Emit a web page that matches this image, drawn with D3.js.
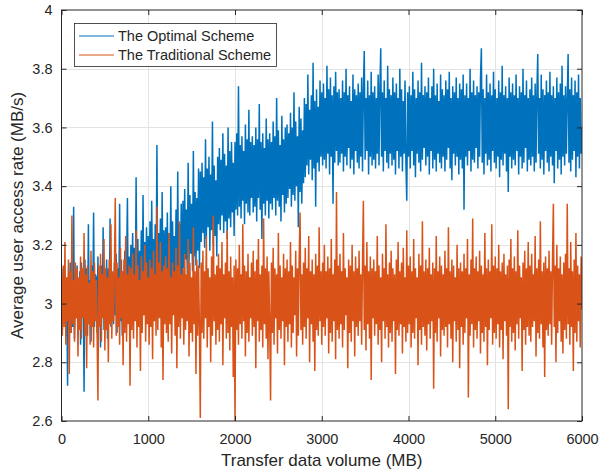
<!DOCTYPE html>
<html>
<head>
<meta charset="utf-8">
<script src="https://cdn.jsdelivr.net/npm/d3@7"></script>
<style>
  body { margin: 0; background: #fff; }
  text { font-family: "Liberation Sans", Arial, Helvetica, sans-serif; fill: #262626; }
</style>
</head>
<body>
<svg id="chart" width="600" height="473"></svg>
<script>
// data, one sample every 10 MB
const xStep = 10;
const optimal = [
  3.08, 2.91, 3.12, 2.94, 3.10, 2.89, 3.05, 2.72, 3.09, 2.93, 3.14, 2.90, 3.06, 2.92, 3.33, 2.88, 3.07, 2.95, 3.13, 2.91,
  2.94, 3.11, 2.86, 3.14, 2.96, 3.09, 2.70, 3.15, 2.93, 3.12, 2.89, 3.27, 2.95, 3.08, 2.87, 3.13, 2.97, 3.31, 2.92, 3.10,
  3.09, 2.90, 3.16, 2.94, 3.11, 2.85, 3.13, 2.96, 3.26, 2.91, 3.08, 2.97, 3.15, 2.88, 3.12, 2.95, 3.29, 2.92, 3.10, 2.98,
  2.93, 3.14, 2.96, 3.17, 2.90, 3.12, 2.98, 3.34, 2.94, 3.15, 2.89, 3.11, 2.99, 3.18, 2.92, 3.13, 3.36, 2.95, 3.16, 2.97,
  3.20, 2.99, 3.24, 3.02, 3.19, 2.97, 3.43, 3.04, 3.22, 2.98, 3.18, 3.05, 3.25, 3.00, 3.37, 2.96, 3.21, 3.03, 3.26, 3.01,
  3.23, 3.02, 3.28, 2.99, 3.35, 3.04, 3.22, 3.00, 3.27, 3.05, 3.54, 3.01, 3.24, 3.06, 3.29, 2.98, 3.38, 3.03, 3.25, 3.07,
  3.26, 3.04, 3.31, 3.01, 3.24, 3.07, 3.40, 3.03, 3.28, 3.08, 3.23, 2.97, 3.32, 3.05, 3.45, 3.02, 3.27, 3.09, 3.34, 3.04,
  3.35, 3.12, 3.39, 3.15, 3.32, 3.10, 3.48, 3.14, 3.37, 3.17, 3.34, 3.11, 3.52, 3.16, 3.38, 3.13, 3.36, 3.18, 3.46, 3.12,
  3.45, 3.21, 3.48, 3.24, 3.43, 3.19, 3.56, 3.22, 3.46, 3.26, 3.50, 3.18, 3.44, 3.25, 3.62, 3.20, 3.47, 3.23, 3.42, 3.16,
  3.50, 3.27, 3.53, 3.25, 3.49, 3.30, 3.58, 3.24, 3.51, 3.28, 3.47, 3.22, 3.60, 3.29, 3.52, 3.26, 3.55, 3.31, 3.48, 3.23,
  3.55, 3.32, 3.58, 3.30, 3.74, 3.33, 3.54, 3.29, 3.57, 3.35, 3.52, 3.27, 3.61, 3.34, 3.56, 3.31, 3.66, 3.30, 3.55, 3.36,
  3.57, 3.31, 3.54, 3.33, 3.60, 3.28, 3.56, 3.36, 3.68, 3.32, 3.55, 3.22, 3.58, 3.34, 3.53, 3.30, 3.63, 3.35, 3.56, 3.29,
  3.58, 3.34, 3.55, 3.32, 3.62, 3.36, 3.57, 3.30, 3.70, 3.35, 3.59, 3.33, 3.54, 3.28, 3.64, 3.37, 3.56, 3.31, 3.60, 3.34,
  3.61, 3.36, 3.58, 3.39, 3.65, 3.33, 3.60, 3.37, 3.72, 3.35, 3.62, 3.40, 3.57, 3.26, 3.67, 3.38, 3.63, 3.34, 3.59, 3.41,
  3.70, 3.43, 3.68, 3.47, 3.78, 3.44, 3.66, 3.49, 3.71, 3.42, 3.82, 3.46, 3.69, 3.33, 3.73, 3.48, 3.67, 3.45, 3.76, 3.50,
  3.72, 3.47, 3.75, 3.49, 3.70, 3.46, 3.81, 3.51, 3.73, 3.44, 3.77, 3.50, 3.71, 3.34, 3.74, 3.48, 3.79, 3.52, 3.72, 3.47,
  3.73, 3.48, 3.70, 3.51, 3.76, 3.45, 3.72, 3.50, 3.80, 3.47, 3.71, 3.53, 3.74, 3.46, 3.69, 3.49, 3.78, 3.44, 3.73, 3.52,
  3.71, 3.48, 3.75, 3.46, 3.72, 3.50, 3.77, 3.45, 3.73, 3.86, 3.49, 3.70, 3.52, 3.76, 3.44, 3.71, 3.50, 3.79, 3.47, 3.72,
  3.49, 3.74, 3.46, 3.70, 3.51, 3.78, 3.47, 3.73, 3.87, 3.50, 3.72, 3.45, 3.76, 3.52, 3.70, 3.48, 3.81, 3.46, 3.73, 3.51,
  3.71, 3.47, 3.77, 3.49, 3.72, 3.44, 3.75, 3.52, 3.70, 3.46, 3.80, 3.50, 3.73, 3.45, 3.69, 3.51, 3.76, 3.48, 3.35, 3.72,
  3.50, 3.74, 3.46, 3.71, 3.52, 3.79, 3.47, 3.73, 3.43, 3.70, 3.51, 3.76, 3.48, 3.72, 3.45, 3.82, 3.49, 3.71, 3.53, 3.74,
  3.47, 3.72, 3.50, 3.77, 3.44, 3.70, 3.52, 3.74, 3.46, 3.80, 3.49, 3.71, 3.45, 3.75, 3.51, 3.69, 3.48, 3.78, 3.46, 3.73,
  3.50, 3.71, 3.45, 3.76, 3.49, 3.73, 3.53, 3.79, 3.46, 3.70, 3.42, 3.74, 3.51, 3.72, 3.47, 3.77, 3.50, 3.70, 3.44, 3.75,
  3.49, 3.73, 3.46, 3.78, 3.32, 3.71, 3.50, 3.75, 3.47, 3.70, 3.52, 3.80, 3.45, 3.72, 3.49, 3.76, 3.48, 3.71, 3.53, 3.74,
  3.46, 3.72, 3.50, 3.77, 3.87, 3.48, 3.73, 3.44, 3.70, 3.51, 3.78, 3.47, 3.72, 3.49, 3.75, 3.45, 3.71, 3.52, 3.79, 3.48,
  3.73, 3.46, 3.70, 3.50, 3.76, 3.43, 3.72, 3.49, 3.81, 3.47, 3.71, 3.51, 3.74, 3.45, 3.70, 3.38, 3.77, 3.50, 3.72, 3.46,
  3.75, 3.49, 3.71, 3.47, 3.78, 3.52, 3.70, 3.44, 3.74, 3.50, 3.72, 3.46, 3.80, 3.48, 3.71, 3.53, 3.76, 3.45, 3.70, 3.49,
  3.73, 3.47, 3.77, 3.50, 3.71, 3.45, 3.75, 3.48, 3.72, 3.85, 3.51, 3.70, 3.46, 3.78, 3.49, 3.73, 3.44, 3.71, 3.52, 3.76,
  3.48, 3.72, 3.45, 3.79, 3.50, 3.71, 3.47, 3.74, 3.41, 3.70, 3.52, 3.77, 3.46, 3.72, 3.49, 3.75, 3.44, 3.81, 3.50, 3.71,
  3.47, 3.74, 3.51, 3.70, 3.85, 3.48, 3.73, 3.45, 3.77, 3.49, 3.71, 3.52, 3.76, 3.43, 3.72, 3.50, 3.78, 3.46, 3.70, 3.51,
  3.60
];
const traditional = [
  3.10, 2.89, 3.13, 2.92, 3.21, 2.86, 3.09, 2.94, 3.15, 2.76, 3.11, 2.90, 3.30, 2.93, 3.08, 2.87, 3.14, 2.95, 3.12, 2.82,
  3.09, 2.91, 3.16, 2.88, 3.12, 2.95, 3.24, 2.89, 3.10, 2.78, 3.13, 2.93, 3.07, 2.86, 3.18, 2.92, 3.11, 2.85, 3.14, 2.94,
  3.08, 2.90, 2.67, 3.13, 2.92, 3.17, 2.87, 3.10, 2.95, 3.22, 2.84, 3.12, 2.91, 3.09, 2.80, 3.15, 2.93, 3.27, 2.88, 3.11,
  2.94, 3.12, 3.36, 2.89, 3.14, 2.92, 3.09, 2.86, 3.19, 2.95, 3.11, 2.79, 3.15, 2.90, 3.23, 2.87, 3.10, 2.93, 3.13, 2.72,
  3.12, 2.91, 3.17, 2.88, 3.10, 2.94, 3.25, 2.85, 3.13, 2.92, 3.08, 2.77, 3.16, 2.90, 3.11, 2.96, 3.20, 2.87, 3.14, 2.93,
  3.09, 2.86, 3.15, 2.92, 3.12, 2.81, 3.18, 2.94, 3.10, 2.89, 3.33, 2.91, 3.14, 2.95, 3.21, 2.85, 3.11, 2.74, 3.13, 2.93,
  3.16, 2.90, 3.12, 2.87, 3.24, 2.93, 3.09, 2.83, 3.14, 2.96, 3.11, 2.89, 3.19, 2.78, 3.13, 2.92, 3.28, 2.88, 3.10, 2.95,
  3.12, 2.86, 3.17, 2.91, 3.10, 2.94, 3.22, 2.82, 3.14, 2.90, 3.09, 2.87, 3.26, 2.93, 3.11, 2.76, 3.15, 2.89, 3.13, 2.92,
  2.61, 3.14, 2.90, 3.18, 2.88, 3.11, 2.95, 3.23, 2.85, 3.12, 2.92, 3.09, 2.80, 3.16, 2.89, 3.30, 2.94, 3.10, 2.86, 3.13,
  2.91, 3.17, 2.87, 3.12, 2.93, 3.21, 2.79, 3.10, 2.95, 3.14, 2.88, 3.25, 2.90, 3.11, 2.84, 3.16, 2.92, 3.09, 2.75, 3.13,
  2.60, 3.15, 2.91, 3.12, 2.86, 3.20, 2.93, 3.10, 2.88, 3.27, 2.94, 3.13, 2.82, 3.11, 2.90, 3.17, 2.87, 3.09, 2.95, 3.14,
  2.89, 3.18, 2.92, 3.11, 2.78, 3.15, 2.94, 3.22, 2.87, 3.10, 2.91, 3.13, 2.85, 3.29, 2.93, 3.12, 2.88, 3.16, 2.81, 3.11,
  2.93, 2.67, 3.14, 2.90, 3.19, 2.86, 3.12, 2.95, 3.10, 2.83, 3.24, 2.91, 3.13, 2.88, 3.09, 2.94, 3.17, 2.79, 3.12, 2.92,
  3.15, 2.87, 3.11, 2.93, 3.21, 2.85, 3.13, 2.90, 3.09, 2.96, 3.18, 2.82, 3.12, 2.89, 3.16, 3.31, 2.91, 3.10, 2.86, 3.14,
  2.92, 3.19, 2.88, 3.12, 2.95, 3.23, 2.80, 3.11, 2.93, 3.15, 2.87, 3.10, 2.77, 3.17, 2.91, 3.13, 2.89, 3.26, 2.94, 3.11,
  2.86, 3.14, 2.92, 3.20, 2.89, 3.11, 2.95, 3.16, 2.83, 3.12, 2.90, 3.22, 2.87, 3.10, 2.94, 3.15, 2.81, 3.38, 2.91, 3.13,
  2.88, 3.17, 2.93, 3.11, 2.85, 3.24, 2.91, 3.12, 2.96, 3.09, 2.78, 3.15, 2.90, 3.13, 2.87, 3.20, 2.94, 3.11, 2.82, 3.16,
  2.92, 3.12, 2.89, 3.18, 2.94, 3.10, 2.86, 3.14, 3.35, 2.91, 3.13, 2.84, 3.21, 2.93, 3.11, 2.88, 3.16, 2.74, 3.12, 2.95,
  3.15, 2.89, 3.11, 2.93, 3.23, 2.86, 3.13, 2.91, 3.09, 2.80, 3.17, 2.94, 3.12, 2.88, 3.27, 2.92, 3.10, 2.85, 3.14, 2.90,
  3.18, 2.87, 3.12, 2.94, 3.10, 2.76, 3.15, 2.91, 3.21, 2.89, 3.11, 2.93, 3.14, 2.83, 3.19, 2.92, 3.09, 2.87, 3.25, 2.90,
  3.13, 2.93, 3.16, 2.85, 3.11, 2.90, 3.22, 2.88, 3.12, 2.95, 3.09, 2.79, 3.17, 2.91, 3.13, 2.86, 3.28, 2.92, 3.11, 2.89,
  3.15, 2.84, 3.12, 2.93, 3.19, 2.88, 3.10, 2.94, 3.14, 2.71, 3.12, 2.90, 3.23, 2.87, 3.11, 2.95, 3.16, 2.82, 3.13, 2.91,
  3.10, 2.89, 3.18, 2.92, 3.12, 2.85, 3.26, 2.93, 3.11, 2.88, 3.15, 2.80, 3.13, 2.94, 3.09, 2.87, 3.20, 2.91, 3.12, 2.78,
  3.14, 2.92, 3.11, 2.86, 3.17, 2.90, 3.12, 2.95, 3.22, 2.68, 3.10, 2.89, 3.15, 2.93, 3.29, 2.85, 3.12, 2.91, 3.16, 2.88,
  3.11, 2.94, 3.18, 2.83, 3.13, 2.90, 3.10, 2.87, 3.24, 2.92, 3.12, 2.79, 3.15, 2.91, 3.11, 2.95, 3.27, 2.86, 3.13, 2.90,
  3.16, 2.88, 3.12, 2.93, 3.20, 2.85, 3.11, 2.91, 3.14, 2.81, 3.17, 2.94, 3.10, 2.89, 3.13, 2.64, 3.15, 2.92, 3.22, 2.87,
  3.12, 2.90, 3.16, 2.84, 3.11, 2.93, 3.25, 2.88, 3.13, 2.95, 3.09, 2.77, 3.14, 2.91, 3.18, 2.86, 3.12, 2.92, 3.21, 2.89,
  3.13, 2.87, 3.17, 2.92, 3.10, 2.94, 3.23, 2.82, 3.12, 2.90, 3.15, 2.88, 3.28, 2.93, 3.11, 2.85, 3.14, 2.75, 3.16, 2.91,
  3.12, 2.89, 3.18, 2.93, 3.11, 2.86, 3.15, 3.34, 2.92, 3.13, 2.80, 3.20, 2.90, 3.12, 2.94, 3.16, 2.87, 3.10, 2.83, 3.14,
  2.91, 3.17, 2.88, 3.34, 2.93, 3.12, 2.86, 3.21, 2.92, 3.11, 2.77, 3.15, 2.90, 3.24, 2.87, 3.13, 2.94, 3.10, 2.85, 3.16,
  2.98
];
const seriesNames = ["The Optimal Scheme", "The Traditional Scheme"];
const seriesColors = ["#0072BD", "#D95319"];
const xTicks = [0, 1000, 2000, 3000, 4000, 5000, 6000];
const xTickLabels = ["0", "1000", "2000", "3000", "4000", "5000", "6000"];
const yTicks = [2.6, 2.8, 3.0, 3.2, 3.4, 3.6, 3.8, 4.0];
const yTickLabels = ["2.6", "2.8", "3", "3.2", "3.4", "3.6", "3.8", "4"];

const svg = d3.select('#chart');
const margin = { top: 10, right: 18, bottom: 52, left: 61.5 };
const width = +svg.attr('width');
const height = +svg.attr('height');

const x = d3.scaleLinear().domain([0, 6000]).range([margin.left, width - margin.right]);
const y = d3.scaleLinear().domain([2.6, 4]).range([height - margin.bottom, margin.top]);

// grid
const grid = svg.append('g').attr('stroke', '#e3e3e3').attr('stroke-width', 1);
grid.selectAll('.gx').data(xTicks.slice(1, -1)).join('line')
  .attr('x1', d => Math.round(x(d)) + 0.5).attr('x2', d => Math.round(x(d)) + 0.5)
  .attr('y1', y(2.6)).attr('y2', y(4));
grid.selectAll('.gy').data(yTicks.slice(1, -1)).join('line')
  .attr('y1', d => Math.round(y(d)) + 0.5).attr('y2', d => Math.round(y(d)) + 0.5)
  .attr('x1', x(0)).attr('x2', x(6000));

svg.append('clipPath').attr('id', 'clip').append('rect')
  .attr('x', x(0)).attr('y', y(4)).attr('width', x(6000) - x(0)).attr('height', y(2.6) - y(4));

const line = d3.line()
  .x((d, i) => x(i * xStep))
  .y(d => y(d));

[optimal, traditional].forEach((s, k) => {
  svg.append('path')
    .datum(s)
    .attr('clip-path', 'url(#clip)')
    .attr('fill', 'none')
    .attr('stroke', seriesColors[k])
    .attr('stroke-width', 1.5)
    .attr('stroke-linejoin', 'bevel')
    .attr('d', line);
});

// axes (box with inward ticks)
const fmtX = d => xTickLabels[xTicks.indexOf(d)];
const fmtY = d => yTickLabels[yTicks.indexOf(d)];
const axisStyle = g => {
  g.select('.domain').remove();
  g.selectAll('line').attr('stroke', '#262626');
  g.selectAll('text').attr('font-size', 14.5).attr('fill', '#262626')
    .attr('font-family', '"Liberation Sans", Arial, sans-serif');
};
svg.append('g')
  .attr('transform', `translate(0,${y(2.6)})`)
  .call(d3.axisBottom(x).tickValues(xTicks).tickFormat(fmtX).tickSizeInner(-5).tickSizeOuter(0).tickPadding(13))
  .call(axisStyle);
svg.append('g')
  .attr('transform', `translate(${x(0)},0)`)
  .call(d3.axisLeft(y).tickValues(yTicks).tickFormat(fmtY).tickSizeInner(-5).tickSizeOuter(0).tickPadding(9))
  .call(axisStyle);
svg.append('g')
  .attr('transform', `translate(0,${y(4)})`)
  .call(d3.axisTop(x).tickValues(xTicks).tickSizeInner(-5).tickSizeOuter(0).tickFormat(''))
  .call(axisStyle);
svg.append('g')
  .attr('transform', `translate(${x(6000)},0)`)
  .call(d3.axisRight(y).tickValues(yTicks).tickSizeInner(-5).tickSizeOuter(0).tickFormat(''))
  .call(axisStyle);

svg.append('rect')
  .attr('x', x(0)).attr('y', y(4)).attr('width', x(6000) - x(0)).attr('height', y(2.6) - y(4))
  .attr('fill', 'none').attr('stroke', '#262626').attr('stroke-width', 1);

// axis labels
svg.append('text')
  .attr('x', (x(0) + x(6000)) / 2).attr('y', 466)
  .attr('text-anchor', 'middle').attr('font-size', 17)
  .text('Transfer data volume (MB)');
svg.append('text')
  .attr('transform', `translate(23,${(y(2.6) + y(4)) / 2}) rotate(-90)`)
  .attr('text-anchor', 'middle').attr('font-size', 17)
  .text('Average user access rate (MB/s)');

// legend
const legend = svg.append('g');
legend.append('rect')
  .attr('x', 74.5).attr('y', 23.5).attr('width', 202).attr('height', 43)
  .attr('fill', '#fff').attr('stroke', '#262626').attr('stroke-width', 0.8);
seriesNames.forEach((name, k) => {
  const ly = 36 + k * 19;
  legend.append('line')
    .attr('x1', 79).attr('x2', 114).attr('y1', ly).attr('y2', ly)
    .attr('stroke', seriesColors[k]).attr('stroke-width', 1.2);
  legend.append('text')
    .attr('x', 118).attr('y', ly + 5).attr('font-size', 14.5)
    .text(name);
});
</script>
</body>
</html>
